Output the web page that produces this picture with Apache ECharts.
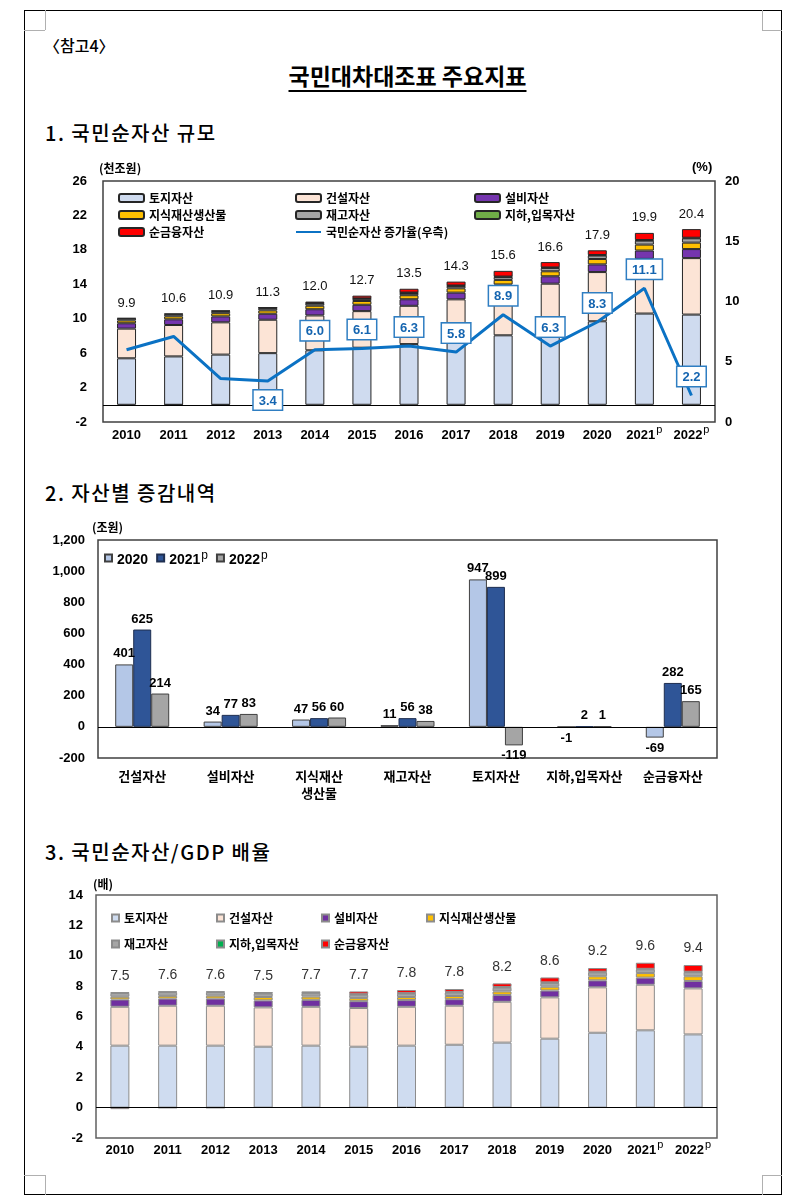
<!DOCTYPE html>
<html><head><meta charset="utf-8">
<script src="https://cdn.jsdelivr.net/npm/echarts/dist/echarts.min.js"></script>
<style>
html,body{margin:0;padding:0;background:#fff;}
body{width:806px;height:1204px;position:relative;overflow:hidden;font-family:"Noto Sans CJK KR","Liberation Sans",sans-serif;color:#000;}
.abs{position:absolute;}
.frame{left:24px;top:10px;width:758px;height:1185px;border:1px solid #000;box-sizing:border-box;}
.mk{background:#b0b0b0;}
.ref{left:44px;top:34px;font-size:16px;line-height:22px;font-weight:500;}
.title{left:0;width:815px;top:60px;text-align:center;font-size:23px;line-height:30px;font-weight:bold;}
.title span{text-decoration:underline;text-underline-offset:5px;text-decoration-thickness:1.5px;}
.h{left:45px;font-size:20px;line-height:24px;letter-spacing:1.5px;font-weight:500;}
.chart{left:0;width:806px;}
</style></head>
<body>
<div class="abs frame"></div>
<div class="abs mk" style="left:45px;top:10px;width:1px;height:20px"></div>
<div class="abs mk" style="left:24px;top:30px;width:21px;height:1px"></div>
<div class="abs mk" style="left:762px;top:10px;width:1px;height:20px"></div>
<div class="abs mk" style="left:762px;top:30px;width:20px;height:1px"></div>
<div class="abs mk" style="left:45px;top:1175px;width:1px;height:20px"></div>
<div class="abs mk" style="left:24px;top:1175px;width:21px;height:1px"></div>
<div class="abs mk" style="left:762px;top:1175px;width:1px;height:20px"></div>
<div class="abs mk" style="left:762px;top:1175px;width:20px;height:1px"></div>

<div class="abs ref">〈참고4〉</div>
<div class="abs title"><span>국민대차대조표 주요지표</span></div>
<div class="abs h" style="top:121px">1. 국민순자산 규모</div>
<div class="abs h" style="top:481px">2. 자산별 증감내역</div>
<div class="abs h" style="top:840px">3. 국민순자산/GDP 배율</div>

<div id="c1" class="abs chart" style="top:150px;height:300px"></div>
<div id="c2" class="abs chart" style="top:510px;height:300px"></div>
<div id="c3" class="abs chart" style="top:870px;height:320px"></div>

<script>
// ---------- shared ----------
const years = ['2010','2011','2012','2013','2014','2015','2016','2017','2018','2019','2020','2021p','2022p'];
const assetNames = ['토지자산','건설자산','설비자산','지식재산생산물','재고자산','지하,입목자산','순금융자산'];

// ---------- chart 1 : 국민순자산 규모 (천조원) ----------
const c1Land   = [5.40,5.62,5.83,6.00,6.33,6.63,7.05,7.53,8.07,8.75,9.70,10.60,10.48];
const c1Constr = [3.45,3.65,3.75,3.88,4.05,4.25,4.45,4.72,5.10,5.32,5.72,6.35,6.56];
const c1Equip  = [0.62,0.66,0.69,0.70,0.72,0.74,0.76,0.78,0.81,0.86,0.89,0.97,1.05];
const c1IP     = [0.33,0.35,0.37,0.39,0.41,0.44,0.47,0.50,0.53,0.58,0.63,0.69,0.75];
const c1Inv    = [0.22,0.25,0.25,0.25,0.25,0.25,0.26,0.28,0.33,0.39,0.40,0.46,0.50];
const c1Sub    = [0.05,0.05,0.05,0.05,0.05,0.05,0.05,0.05,0.06,0.06,0.06,0.07,0.07];
const c1NFA    = [-0.12,-0.02,-0.05,0.02,0.18,0.32,0.44,0.45,0.66,0.62,0.55,0.83,1.00];
const c1Totals = [9.9,10.6,10.9,11.3,12.0,12.7,13.5,14.3,15.6,16.6,17.9,19.9,20.4];
const c1Growth = [6.0,7.1,3.6,3.4,6.0,6.1,6.3,5.8,8.9,6.3,8.3,11.1,2.2];
const c1LeftTicks  = {min:-2, max:26, interval:4};
const c1RightTicks = {min:0, max:20, interval:5};

// ---------- chart 2 : 자산별 증감내역 (조원) ----------
const c2Cats = ['건설자산','설비자산','지식재산\n생산물','재고자산','토지자산','지하,입목자산','순금융자산'];
const c2Y2020 = [401,34,47,11,947,-1,-69];
const c2Y2021 = [625,77,56,56,899,2,282];
const c2Y2022 = [214,83,60,38,-119,1,165];
const c2Ticks = {min:-200, max:1200, interval:200};

// ---------- chart 3 : 국민순자산/GDP 배율 (배) ----------
const c3Land   = [4.08,4.08,4.08,4.01,4.08,4.01,4.08,4.14,4.28,4.54,4.93,5.09,4.82];
const c3Constr = [2.56,2.63,2.63,2.59,2.56,2.55,2.56,2.57,2.69,2.72,2.99,3.00,3.03];
const c3Equip  = [0.48,0.47,0.47,0.46,0.46,0.45,0.44,0.43,0.45,0.45,0.46,0.47,0.49];
const c3IP     = [0.18,0.18,0.19,0.22,0.21,0.20,0.20,0.21,0.23,0.25,0.27,0.30,0.31];
const c3Inv    = [0.25,0.25,0.24,0.24,0.23,0.22,0.22,0.23,0.25,0.25,0.26,0.25,0.27];
const c3Sub    = [0.04,0.04,0.04,0.04,0.04,0.04,0.04,0.04,0.04,0.04,0.04,0.03,0.03];
const c3NFA    = [-0.10,-0.02,-0.02,0.03,0.05,0.18,0.20,0.19,0.24,0.32,0.24,0.40,0.44];
const c3Totals = [7.5,7.6,7.6,7.5,7.7,7.7,7.8,7.8,8.2,8.6,9.2,9.6,9.4];
const c3Ticks = {min:-2, max:14, interval:2};

// ---------- helpers ----------
const FONT = '"Liberation Sans", Arial, "Noto Sans CJK KR", sans-serif';
const KFONT = '"Noto Sans CJK KR", "Liberation Sans", sans-serif';
function supFmt(v){ return v.endsWith('p') ? '{y|'+v.slice(0,-1)+'}{p|p}' : '{y|'+v+'}'; }
function yearRich(size, padTop){
  return {
    y:{fontFamily:FONT,fontSize:size,fontWeight:'bold',color:'#000',lineHeight:16,padding:[padTop,0,0,0]},
    p:{fontFamily:FONT,fontSize:size-2,color:'#000',lineHeight:10,verticalAlign:'top',padding:[0,0,0,1]}
  };
}
function posSum(arrs){ return arrs[0].map((_,i)=>arrs.reduce((s,a)=>s+(a[i]>0?a[i]:0),0)); }
const zeroLine = {silent:true,symbol:['none','none'],label:{show:false},lineStyle:{color:'#000',type:'solid',width:1},data:[{yAxis:0}]};
const hidden = {color:'transparent',opacity:1};

// ================= CHART 1 =================
(function(){
  const ch = echarts.init(document.getElementById('c1'));
  const comps = [c1Land,c1Constr,c1Equip,c1IP,c1Inv,c1Sub,c1NFA];
  const colors = ['#CFDBEF','#FCE4D6','#7535AE','#FFC000','#A6A6A6','#70AD47','#FF0000'];
  const series = comps.map((d,k)=>({
    name:assetNames[k], type:'bar', stack:'a', barWidth:19, data:d,
    itemStyle:{color:colors[k],borderColor:'#262626',borderWidth:1},
    emphasis:{disabled:true},
    markLine: k===0 ? zeroLine : undefined
  }));
  series.push({
    name:'총계', type:'scatter', data:posSum(comps), symbolSize:1, itemStyle:hidden,
    label:{show:true,position:'top',distance:8,fontFamily:FONT,fontSize:13,color:'#111',
      formatter:p=>c1Totals[p.dataIndex].toFixed(1)},
    emphasis:{disabled:true}, silent:true, z:5
  });
  series.push({
    name:'국민순자산 증가율(우측)', type:'line', yAxisIndex:1, symbol:'none', data:c1Growth,
    lineStyle:{color:'#0B72C4',width:3}, itemStyle:{color:'#0B72C4'},
    emphasis:{disabled:true}, z:4
  });
  series.push({
    name:'증가율 라벨', type:'scatter', yAxisIndex:1, symbolSize:1, itemStyle:hidden,
    data:c1Growth.map((v,i)=>({value:v,label:{show:i>=3,position:i===3?'bottom':'top'}})),
    label:{show:true,distance:9,formatter:p=>p.value.toFixed(1),backgroundColor:'#fff',
      borderColor:'#2F7EC2',borderWidth:1.5,padding:[4,5,2,5],color:'#1565B0',
      fontFamily:FONT,fontSize:13,fontWeight:'bold'},
    emphasis:{disabled:true}, silent:true, z:6
  });
  const lt = {fontFamily:KFONT,fontSize:12,fontWeight:'bold',color:'#000',lineHeight:14};
  const leg = (left,data)=>({left:left,top:41,orient:'vertical',itemGap:3,itemWidth:25,itemHeight:8,
    selectedMode:false,textStyle:lt,data:data,padding:0});
  const lineLeg = {name:'국민순자산 증가율(우측)', itemStyle:{opacity:0}};
  ch.setOption({
    animation:false,
    grid:{left:103,top:31,width:612,height:241,show:true,borderColor:'#404040',borderWidth:1.5,outerBoundsMode:'none'},
    legend:[leg(118,['토지자산','지식재산생산물','순금융자산']),
            leg(295,['건설자산','재고자산',lineLeg]),
            leg(474,['설비자산','지하,입목자산'])],
    graphic:[
      {type:'text',left:99,top:12,style:{text:'(천조원)',font:'bold 12px '+KFONT,fill:'#000'}},
      {type:'text',left:692,top:11,style:{text:'(%)',font:'bold 13px '+FONT,fill:'#000'}}
    ],
    xAxis:{type:'category',data:years,axisLine:{show:false},axisTick:{show:false},
      axisLabel:{margin:2,formatter:supFmt,rich:yearRich(13,6),interval:0}},
    yAxis:[
      Object.assign({type:'value',axisLine:{show:false},axisTick:{show:false},splitLine:{show:false},
        axisLabel:{margin:16,fontFamily:FONT,fontSize:13,fontWeight:'bold',color:'#000'}},c1LeftTicks),
      Object.assign({type:'value',position:'right',axisLine:{show:false},axisTick:{show:false},splitLine:{show:false},
        axisLabel:{margin:10,fontFamily:FONT,fontSize:13,fontWeight:'bold',color:'#000'}},c1RightTicks)
    ],
    series:series
  });
})();

// ================= CHART 2 =================
(function(){
  const ch = echarts.init(document.getElementById('c2'));
  const sets = [['2020',c2Y2020,'#B4C7E7','#404040'],['2021p',c2Y2021,'#2F5597','#1F2F50'],['2022p',c2Y2022,'#A5A5A5','#404040']];
  const series = sets.map((s,k)=>({
    name:s[0], type:'bar', barWidth:18, barGap:'0%',
    data:s[1].map(v=>({value:v,label:{position:v<0?'bottom':'top'}})),
    itemStyle:{color:s[2],borderColor:s[3],borderWidth:1},
    label:{show:true,distance:4,fontFamily:FONT,fontSize:13,fontWeight:'bold',color:'#000'},
    emphasis:{disabled:true},
    markLine: k===0 ? zeroLine : undefined
  }));
  ch.setOption({
    animation:false,
    grid:{left:98,top:30,width:619,height:218,show:true,borderColor:'#404040',borderWidth:1.5,outerBoundsMode:'none'},
    legend:{left:104,top:39,itemWidth:7,itemHeight:7,itemGap:8,selectedMode:false,padding:0,
      icon:'rect',formatter:supFmt,textStyle:{rich:yearRich(14,4)},data:['2020','2021p','2022p']},
    graphic:[{type:'text',left:92,top:11,style:{text:'(조원)',font:'bold 12px '+KFONT,fill:'#000'}}],
    xAxis:{type:'category',data:c2Cats,axisLine:{show:false},axisTick:{show:false},
      axisLabel:{margin:10,interval:0,fontFamily:KFONT,fontSize:13,fontWeight:'bold',color:'#000',lineHeight:17}},
    yAxis:Object.assign({type:'value',axisLine:{show:false},axisTick:{show:false},splitLine:{show:false},
      axisLabel:{margin:13,fontFamily:FONT,fontSize:13,fontWeight:'bold',color:'#000',
        formatter:v=>v.toLocaleString('en-US')}},c2Ticks),
    series:series
  });
})();

// ================= CHART 3 =================
(function(){
  const ch = echarts.init(document.getElementById('c3'));
  const comps = [c3Land,c3Constr,c3Equip,c3IP,c3Inv,c3Sub,c3NFA];
  const colors = ['#CFDCF0','#FCE4D6','#7030A0','#FFC000','#A6A6A6','#00B050','#FF0000'];
  const series = comps.map((d,k)=>({
    name:assetNames[k], type:'bar', stack:'a', barWidth:19, data:d,
    itemStyle:{color:colors[k],borderColor:'#8C8C8C',borderWidth:1},
    emphasis:{disabled:true},
    markLine: k===0 ? zeroLine : undefined
  }));
  series.push({
    name:'총계', type:'scatter', data:posSum(comps), symbolSize:1, itemStyle:hidden,
    label:{show:true,position:'top',distance:9,fontFamily:FONT,fontSize:14,color:'#333',
      formatter:p=>c3Totals[p.dataIndex].toFixed(1)},
    emphasis:{disabled:true}, silent:true, z:5
  });
  const lt = {fontFamily:KFONT,fontSize:12,fontWeight:'bold',color:'#000',lineHeight:14};
  const leg = (left,data)=>({left:left,top:41,orient:'vertical',itemGap:12,itemWidth:7,itemHeight:7,
    icon:'rect',selectedMode:false,textStyle:lt,data:data,padding:0});
  ch.setOption({
    animation:false,
    grid:{left:96,top:25,width:621,height:243,show:true,borderColor:'#606060',borderWidth:1.5,outerBoundsMode:'none'},
    legend:[leg(111,['토지자산','재고자산']),leg(216,['건설자산','지하,입목자산']),
            leg(321,['설비자산','순금융자산']),leg(426,['지식재산생산물'])],
    graphic:[{type:'text',left:93,top:8,style:{text:'(배)',font:'bold 12px '+KFONT,fill:'#000'}}],
    xAxis:{type:'category',data:years,axisLine:{show:false},axisTick:{show:false},
      axisLabel:{margin:1,formatter:supFmt,rich:yearRich(13,6),interval:0}},
    yAxis:Object.assign({type:'value',axisLine:{show:false},axisTick:{show:false},splitLine:{show:false},
      axisLabel:{margin:13,fontFamily:FONT,fontSize:13,fontWeight:'bold',color:'#000'}},c3Ticks),
    series:series
  });
})();
</script>
</body></html>
